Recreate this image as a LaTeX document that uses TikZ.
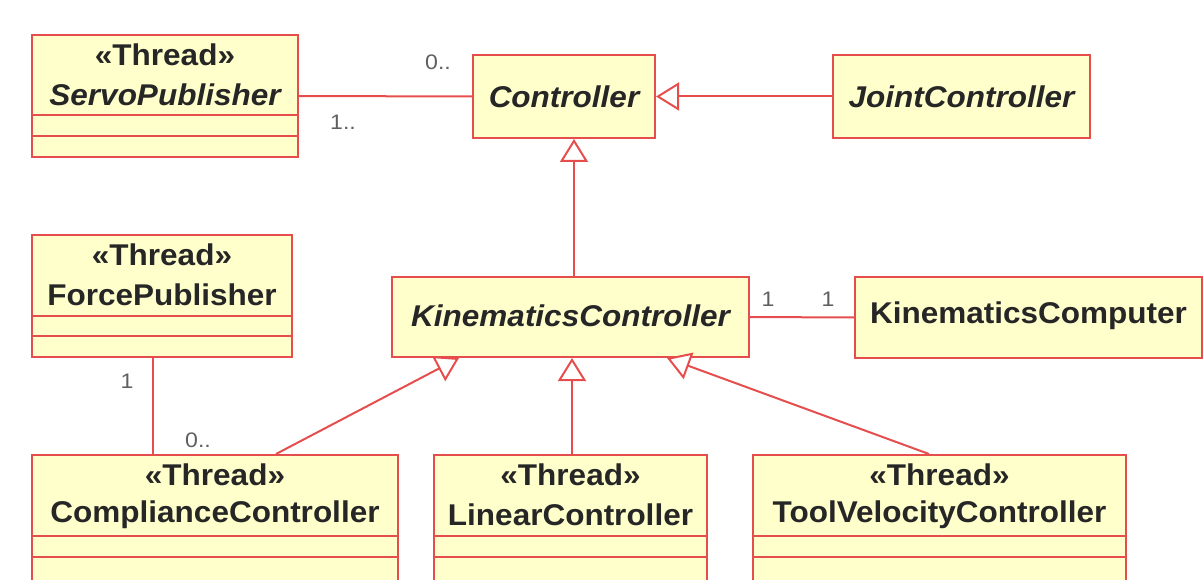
\documentclass[tikz,border=0pt]{standalone}
\usepackage{fontspec}
\setmainfont{Liberation Sans}[FakeStretch=1.1]
\newfontfamily\clsfont{Liberation Sans Bold}[FakeStretch=1.05, ItalicFont=Liberation Sans Bold Italic, ItalicFeatures={FakeStretch=1.05}]
\usetikzlibrary{arrows.meta,calc}
\definecolor{umlred}{RGB}{230,78,78}
\definecolor{umlfill}{RGB}{255,255,204}
\definecolor{multgray}{RGB}{95,95,95}
\tikzset{
  cls/.style={draw=umlred, fill=umlfill, line width=2pt, rectangle, inner sep=0pt},
  sep/.style={draw=umlred, line width=2pt},
  cname/.style={font=\clsfont\fontsize{30}{34}\selectfont, inner sep=0pt, anchor=center, text=black!85},
  iname/.style={cname, font=\clsfont\itshape\fontsize{30}{34}\selectfont},
  mult/.style={font=\fontsize{21}{25}\selectfont, text=multgray, inner sep=0pt},
  assoc/.style={draw=umlred, line width=2pt},
  gen/.style={draw=umlred, line width=2pt, -{Triangle[length=23pt,width=28pt,fill=white]}}
}
\begin{document}
\begin{tikzpicture}[x=1pt,y=-1pt]
\useasboundingbox (0,0) rectangle (1204,580);
\clip (0,0) rectangle (1204,580);
% boxes
\node[cls, minimum width=266pt, minimum height=122pt] (servo) at (165,96) {};
\node[cls, minimum width=182pt, minimum height=83pt] (ctrl) at (564,96.5) {};
\node[cls, minimum width=257pt, minimum height=83pt] (joint) at (961.5,96.5) {};
\node[cls, minimum width=260pt, minimum height=122pt] (force) at (162,296) {};
\node[cls, minimum width=357pt, minimum height=80pt] (kc) at (570.5,317) {};
\node[cls, minimum width=347pt, minimum height=81pt] (kcomp) at (1028.5,317.5) {};
\node[cls, minimum width=366pt, minimum height=200pt] (cc) at (215,555) {};
\node[cls, minimum width=273pt, minimum height=200pt] (lin) at (570.5,555) {};
\node[cls, minimum width=373pt, minimum height=200pt] (tvc) at (939.5,555) {};
% compartments
\foreach \b/\a/\c in {servo/81/102, force/82/102, cc/82/103, lin/82/103, tvc/82/103}{
  \draw[sep] ($(\b.north west)+(0,\a)$) -- ($(\b.north east)+(0,\a)$);
  \draw[sep] ($(\b.north west)+(0,\c)$) -- ($(\b.north east)+(0,\c)$);
}
% texts
\node[cname] (servoS) at (165,55) {«Thread»};
\node[iname] (servoN) at (165,95) {ServoPublisher};
\node[iname] (ctrlN) at (564,97) {Controller};
\node[iname] (jointN) at (961.5,97) {JointController};
\node[cname] (forceS) at (162,255) {«Thread»};
\node[cname] (forceN) at (162,295) {ForcePublisher};
\node[iname] (kcN) at (570.5,316) {KinematicsController};
\node[cname] (kcompN) at (1028.5,316) {KinematicsComputer};
\node[cname] (ccS) at (215,475) {«Thread»};
\node[cname] (ccN) at (215,515) {ComplianceController};
\node[cname] (linS) at (570.5,475) {«Thread»};
\node[cname] (linN) at (570.5,515) {LinearController};
\node[cname] (tvcS) at (939.5,475) {«Thread»};
\node[cname] (tvcN) at (939.5,515) {ToolVelocityController};
% connectors
\draw[assoc] (servo.east) -- (ctrl.west);
\draw[gen] (joint.west) -- (ctrl.east);
\draw[gen] ($(kc.north west)+(183,0)$) -- ($(ctrl.south west)+(102,0)$);
\draw[assoc] (kc.east) -- (kcomp.west);
\draw[assoc] ($(force.south west)+(122,0)$) -- ($(cc.north west)+(122,0)$);
\draw[gen] ($(cc.north west)+(245,0)$) -- ($(kc.south west)+(68,0)$);
\draw[gen] ($(lin.north west)+(139,0)$) -- ($(kc.south west)+(181,0)$);
\draw[gen] ($(tvc.north west)+(177,0)$) -- ($(kc.south west)+(276,0)$);
% multiplicities
\node[mult] (m1) at (438,62) {0..};
\node[mult] (m2) at (343,122) {1..};
\node[mult] (m3) at (768,299) {1};
\node[mult] (m4) at (828,299) {1};
\node[mult] (m5) at (127,381) {1};
\node[mult] (m6) at (198,440) {0..};
\end{tikzpicture}
\end{document}
